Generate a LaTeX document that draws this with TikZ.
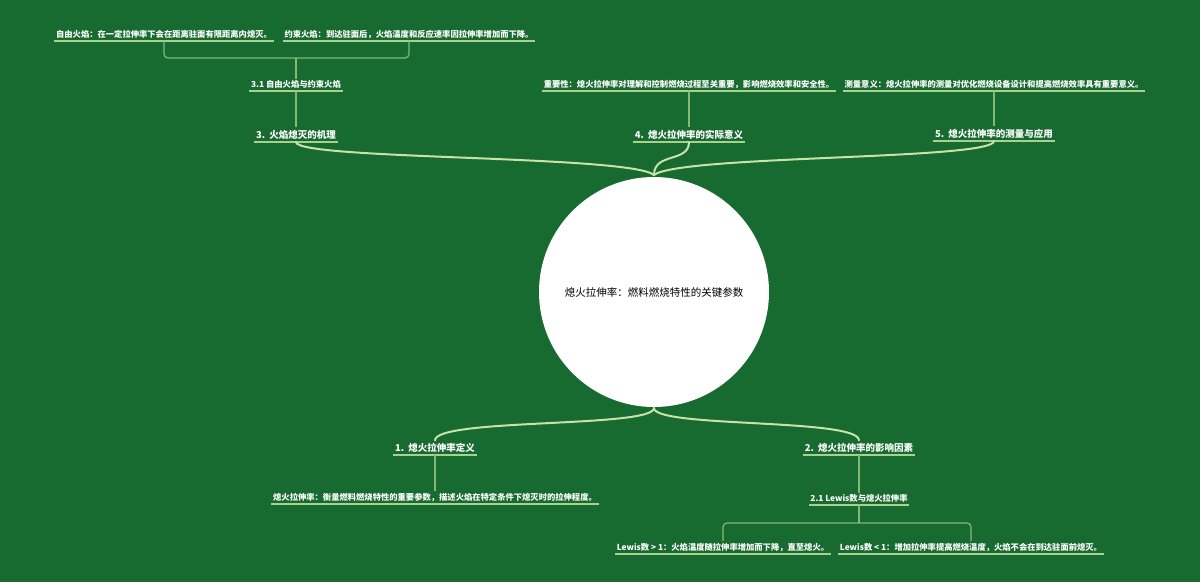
\documentclass[tikz,border=0pt]{standalone}
\usepackage{fontspec}
\setmainfont{Noto Sans CJK SC}
\definecolor{bg}{HTML}{186B30}
\definecolor{curv}{HTML}{C8E2A8}
\definecolor{uln}{HTML}{A9D18E}
\definecolor{thin}{HTML}{86B872}
\tikzset{
  top/.style={anchor=south,inner xsep=2pt,inner ysep=2.5pt,text=white,font=\fontsize{9.5}{10}\selectfont\bfseries},
  sub/.style={anchor=south,inner xsep=1.5pt,inner ysep=2pt,text=white,font=\fontsize{8.3}{9}\selectfont\bfseries},
  ul/.style={draw=uln,line width=1.4pt},
  branch/.style={draw=curv,line width=2pt,line cap=round},
  conn/.style={draw=thin,line width=1.2pt,rounded corners=4pt},
}
\begin{document}
\begin{tikzpicture}[x=1pt,y=-1pt]
\fill[bg] (0,0) rectangle (1200,582);
\useasboundingbox (0,0) rectangle (1200,582);
% root
\node[circle,fill=white,minimum size=230pt,inner sep=0pt] (root) at (654,292) {};
\node[font=\fontsize{10.5}{12}\selectfont,text=black] (roottxt) at (654,292) {熄火拉伸率：燃料燃烧特性的关键参数};
\coordinate (rt) at (654,175);
\coordinate (rb) at (654,408);
% level 1
\node[top] (n3) at (296,142) {3.\hspace{4pt}火焰熄灭的机理};
\node[top] (n4) at (689,142) {4.\hspace{4pt}熄火拉伸率的实际意义};
\node[top] (n5) at (994,141) {5.\hspace{4pt}熄火拉伸率的测量与应用};
\node[top] (n1) at (435,455) {1.\hspace{4pt}熄火拉伸率定义};
\node[top] (n2) at (859,455) {2.\hspace{4pt}熄火拉伸率的影响因素};
% level 2
\node[sub] (n31) at (296,91) {3.1 自由火焰与约束火焰};
\node[sub] (n41) at (689,91) {重要性：熄火拉伸率对理解和控制燃烧过程至关重要，影响燃烧效率和安全性。};
\node[sub] (n51) at (994,91) {测量意义：熄火拉伸率的测量对优化燃烧设备设计和提高燃烧效率具有重要意义。};
\node[sub] (n11) at (435,504) {熄火拉伸率：衡量燃料燃烧特性的重要参数，描述火焰在特定条件下熄灭时的拉伸程度。};
\node[sub] (n21) at (859,505) {2.1 Lewis数与熄火拉伸率};
% level 3
\node[sub] (la) at (164,41) {自由火焰：在一定拉伸率下会在距离驻面有限距离内熄灭。};
\node[sub] (lb) at (409,41) {约束火焰：到达驻面后，火焰温度和反应速率因拉伸率增加而下降。};
\node[sub] (lc) at (723,554) {Lewis数 > 1：火焰温度随拉伸率增加而下降，直至熄火。};
\node[sub] (ld) at (971,554) {Lewis数 < 1：增加拉伸率提高燃烧温度，火焰不会在到达驻面前熄灭。};
% underlines
\foreach \n in {n3,n4,n5,n1,n2,n31,n41,n51,n11,n21,la,lb,lc,ld}
  \draw[ul] (\n.south west) -- (\n.south east);
% main branches
\draw[branch] (n3.south) .. controls (296,160) and (630,155) .. (rt);
\draw[branch] (n4.south) .. controls (689,163) and (654,152) .. (rt);
\draw[branch] (n5.south) .. controls (994,160) and (680,155) .. (rt);
\draw[branch] (rb) .. controls (654,428) and (435,418) .. (n1.north);
\draw[branch] (rb) .. controls (654,428) and (859,418) .. (n2.north);
% connectors
\draw[conn] (n31.south) -- (n3.north);
\draw[conn] (n41.south) -- (n4.north);
\draw[conn] (n51.south) -- (n5.north);
\draw[conn] (n11.north) -- (n1.south);
\draw[conn] (n21.north) -- (n2.south);
\coordinate (tb) at (296,58);
\draw[conn] (la.south) |- (tb) -| (lb.south);
\draw[conn] (tb) -- (n31.north);
\coordinate (bb) at (859,523);
\draw[conn] (n21.south) -- (bb);
\draw[conn] (lc.north) |- (bb) -| (ld.north);
\end{tikzpicture}
\end{document}
